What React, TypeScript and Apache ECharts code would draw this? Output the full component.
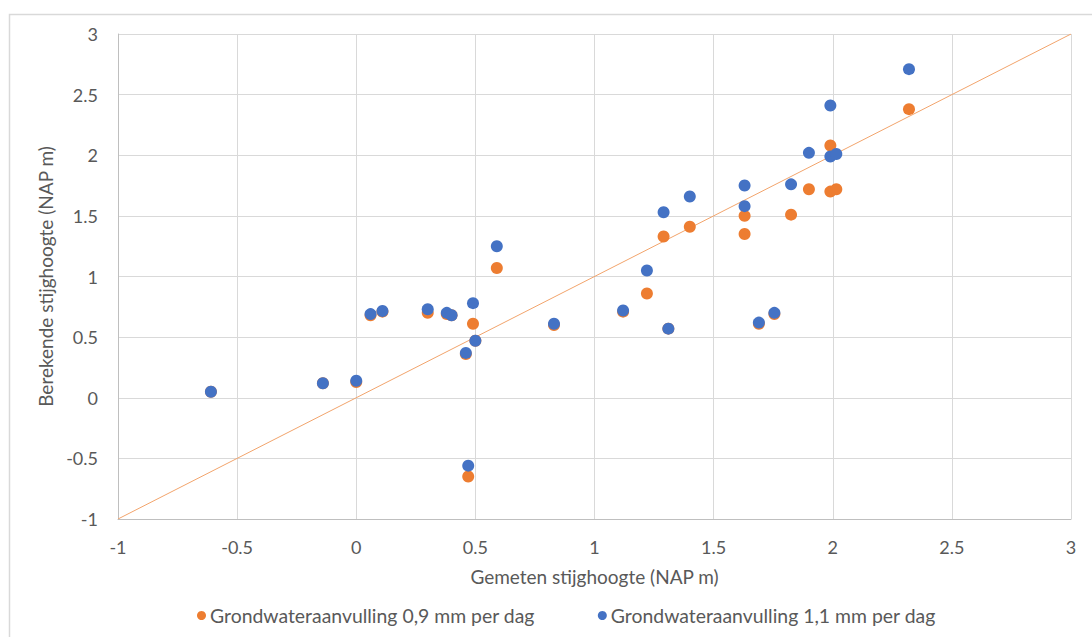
import React, { useEffect, useRef } from "react";
import * as echarts from "echarts";

const gemeten = [-0.61, -0.14, 0.0, 0.06, 0.11, 0.3, 0.38, 0.4, 0.46, 0.47, 0.49, 0.5, 0.59, 0.83, 1.12, 1.22, 1.29, 1.31, 1.4, 1.63, 1.63, 1.69, 1.755, 1.825, 1.9, 1.99, 1.99, 2.015, 2.32];
const berekend09 = [0.05, 0.12, 0.13, 0.68, 0.71, 0.7, 0.69, 0.68, 0.36, -0.65, 0.61, 0.47, 1.07, 0.6, 0.71, 0.86, 1.33, 0.57, 1.41, 1.5, 1.35, 0.61, 0.69, 1.51, 1.72, 2.08, 1.7, 1.72, 2.38];
const berekend11 = [0.05, 0.12, 0.14, 0.69, 0.715, 0.73, 0.7, 0.68, 0.37, -0.56, 0.78, 0.47, 1.25, 0.61, 0.72, 1.05, 1.53, 0.57, 1.66, 1.75, 1.58, 0.62, 0.7, 1.76, 2.02, 2.41, 1.99, 2.01, 2.71];
const lijnX = [-1, 3];
const lijnY = [-1, 3];

const seriesNames = ["Grondwateraanvulling 0,9 mm per dag", "Grondwateraanvulling 1,1 mm per dag"];
const xTitle = "Gemeten stijghoogte (NAP m)";
const yTitle = "Berekende stijghoogte (NAP m)";

const FONT = "Lato, 'Open Sans', sans-serif";
const TXT = "#595959";

export default function App() {
  const ref = useRef<HTMLDivElement>(null);
  useEffect(() => {
    document.body.style.margin = "0";
    if (!ref.current) return;
    const chart = echarts.init(ref.current, undefined, { renderer: "svg" });
    const zip = (xs: number[], ys: number[]) => xs.map((x, i) => [x, ys[i]]);
    chart.setOption({
      animation: false,
      backgroundColor: "#ffffff",
      textStyle: { fontFamily: FONT, color: TXT },
      grid: { left: 118, right: 21, top: 34, bottom: 118 },
      graphic: [
        {
          type: "rect",
          left: 7,
          top: 12,
          shape: { width: 1200, height: 700 },
          style: { fill: "none", stroke: "#d9d9d9", lineWidth: 1.5 },
          silent: true,
          z: -10,
        },
      ],
      legend: {
        left: 192,
        top: 601,
        icon: "circle",
        itemWidth: 9,
        itemHeight: 9,
        itemGap: 63,
        textStyle: { fontFamily: FONT, fontSize: 19.4, color: TXT, padding: [0, 0, 0, -1] },
        data: seriesNames,
      },
      xAxis: {
        type: "value",
        min: -1,
        max: 3,
        interval: 0.5,
        name: xTitle,
        nameLocation: "middle",
        nameGap: 48,
        nameTextStyle: { fontFamily: FONT, fontSize: 19, color: TXT },
        axisLine: { onZero: false, lineStyle: { color: "#bfbfbf", width: 1 } },
        axisTick: { show: false },
        axisLabel: { fontFamily: FONT, fontSize: 18, color: TXT, margin: 19 },
        splitLine: { show: true, lineStyle: { color: "#d9d9d9", width: 1 } },
      },
      yAxis: {
        type: "value",
        min: -1,
        max: 3,
        interval: 0.5,
        name: yTitle,
        nameLocation: "middle",
        nameGap: 61,
        nameRotate: 90,
        nameTextStyle: { fontFamily: FONT, fontSize: 19, color: TXT },
        axisLine: { show: true, onZero: false, lineStyle: { color: "#bfbfbf", width: 1 } },
        axisTick: { show: false },
        axisLabel: { fontFamily: FONT, fontSize: 18, color: TXT, margin: 20 },
        splitLine: { show: true, lineStyle: { color: "#d9d9d9", width: 1 } },
      },
      series: [
        {
          type: "line",
          data: zip(lijnX, lijnY),
          symbol: "none",
          lineStyle: { color: "#f2a46c", width: 1 },
          silent: true,
          z: 1,
        },
        {
          name: seriesNames[0],
          type: "scatter",
          data: zip(gemeten, berekend09),
          symbolSize: 12,
          itemStyle: { color: "#ED7D31", opacity: 1 },
          z: 2,
        },
        {
          name: seriesNames[1],
          type: "scatter",
          data: zip(gemeten, berekend11),
          symbolSize: 12,
          itemStyle: { color: "#4472C4", opacity: 1 },
          z: 3,
        },
      ],
    });
    return () => chart.dispose();
  }, []);
  return <div ref={ref} style={{ width: 1092, height: 637 }} />;
}
